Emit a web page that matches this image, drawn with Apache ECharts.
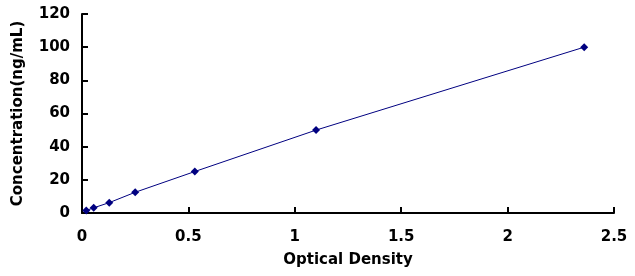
<!DOCTYPE html>
<html><head><meta charset="utf-8">
<script src="https://cdn.jsdelivr.net/npm/echarts@6/dist/echarts.min.js"></script>
<style>html,body{margin:0;padding:0;background:#fff}#c{width:635px;height:276px}</style>
</head><body><div id="c"></div>
<script>
const odValues = [0.02, 0.055, 0.128, 0.25, 0.53, 1.1, 2.36];
const concValues = [1.56, 3.12, 6.25, 12.5, 25, 50, 100];
const xTitle = 'Optical Density';
const yTitle = 'Concentration(ng/mL)';

const chart = echarts.init(document.getElementById('c'), null, {renderer: 'canvas'});
const font = 'DejaVu Sans, sans-serif';
chart.setOption({
  animation: false,
  grid: {left: 82, right: 21, top: 14, bottom: 63, containLabel: false, outerBoundsMode: 'none'},
  xAxis: {
    type: 'value', min: 0, max: 2.5, interval: 0.5,
    name: xTitle, nameLocation: 'middle', nameGap: 40,
    nameTextStyle: {fontFamily: font, fontWeight: 'bold', fontSize: 15, color: '#000'},
    axisLine: {lineStyle: {color: '#000', width: 2}},
    axisTick: {inside: true, length: 6, lineStyle: {color: '#000', width: 2}},
    axisLabel: {fontFamily: font, fontWeight: 'bold', fontSize: 15, color: '#000', margin: 17},
    splitLine: {show: false}
  },
  yAxis: {
    type: 'value', min: 0, max: 120, interval: 20,
    name: yTitle, nameLocation: 'middle', nameGap: 56, nameRotate: 90,
    nameTextStyle: {fontFamily: font, fontWeight: 'bold', fontSize: 15, color: '#000'},
    axisLine: {show: true, lineStyle: {color: '#000', width: 2}},
    axisTick: {show: true, inside: true, length: 6, lineStyle: {color: '#000', width: 2}},
    axisLabel: {fontFamily: font, fontWeight: 'bold', fontSize: 15, color: '#000', margin: 12},
    splitLine: {show: false}
  },
  series: [{
    type: 'line',
    data: odValues.map((x, i) => [x, concValues[i]]),
    symbol: 'diamond', symbolSize: 8,
    itemStyle: {color: '#000080'},
    lineStyle: {color: '#000080', width: 1}
  }]
});
</script></body></html>
